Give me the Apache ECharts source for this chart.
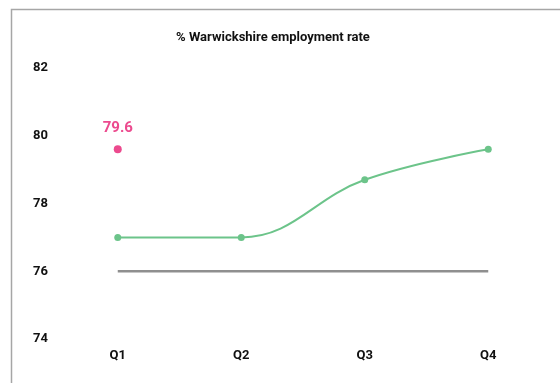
<!DOCTYPE html>
<html>
<head>
<meta charset="utf-8">
<script src="https://cdn.jsdelivr.net/npm/echarts@6/dist/echarts.min.js"></script>
<style>html,body{margin:0;padding:0;background:#fff}#c{width:560px;height:383px}</style>
</head>
<body>
<div id="c"></div>
<script>
const categories = ['Q1', 'Q2', 'Q3', 'Q4'];
const employmentRate = [77, 77, 78.7, 79.6];
const highlightPoint = [79.6, null, null, null];
const baseline = [76, 76, 76, 76];
const yTicks = [74, 76, 78, 80, 82];
const titleText = '% Warwickshire employment rate';

const chart = echarts.init(document.getElementById('c'), null, {renderer: 'canvas'});
chart.setOption({
  animation: false,
  backgroundColor: '#fff',
  graphic: [{
    type: 'rect', left: 9, top: 7,
    shape: {width: 600, height: 400},
    style: {fill: 'none', stroke: '#a6a6a6', lineWidth: 1.5},
    silent: true, z: -1
  }],
  title: {
    text: titleText, left: 268, top: 26, textAlign: 'center',
    textStyle: {fontFamily: 'Roboto', fontWeight: 'bold', fontSize: 13, color: '#111'}
  },
  grid: {left: 56, right: 10, top: 68, bottom: 44},
  xAxis: {
    type: 'category', data: categories, boundaryGap: true,
    axisLine: {show: false}, axisTick: {show: false}, splitLine: {show: false},
    axisLabel: {fontFamily: 'Roboto', fontWeight: 'bold', fontSize: 13, color: '#111', margin: 10}
  },
  yAxis: {
    type: 'value', min: yTicks[0], max: yTicks[yTicks.length - 1], interval: 2,
    axisLine: {show: false}, axisTick: {show: false}, splitLine: {show: false},
    axisLabel: {fontFamily: 'Roboto', fontWeight: 'bold', fontSize: 13, color: '#111', margin: 8, align: 'right'}
  },
  series: [
    {
      type: 'line', data: baseline, symbol: 'none', smooth: false,
      lineStyle: {color: '#8f8f8f', width: 2.5}, z: 1
    },
    {
      type: 'line', data: employmentRate, smooth: 0.4,
      symbol: 'circle', symbolSize: 7,
      itemStyle: {color: '#6cc48a'},
      lineStyle: {color: '#6cc48a', width: 2}, z: 2
    },
    {
      type: 'line', data: highlightPoint,
      symbol: 'circle', symbolSize: 8,
      itemStyle: {color: '#ec4a8e'},
      lineStyle: {width: 0},
      label: {
        show: true, position: 'top', distance: 10,
        fontFamily: 'Roboto', fontWeight: 'bold', fontSize: 15, color: '#ec4a8e',
        formatter: p => p.value == null ? '' : p.value.toFixed(1)
      },
      z: 3
    }
  ]
});
</script>
</body>
</html>
